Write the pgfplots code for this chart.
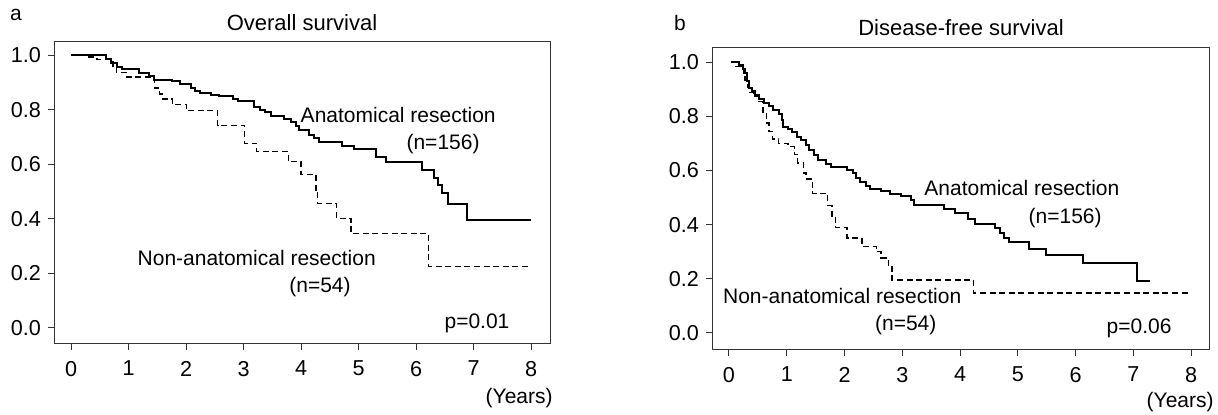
\documentclass[border=0pt]{standalone}
\usepackage{fontspec}
\setmainfont{Liberation Sans}
\usepackage{pgfplots}
\pgfplotsset{compat=1.18}

\tikzset{lab/.style={font=\fontsize{10.5}{12}\selectfont, inner sep=0pt}}
\pgfplotsset{
  km/.style={
    scale only axis,
    axis line style={black!80, line width=0.5pt},
    tick style={black!80, line width=0.5pt},
    tick align=outside,
    xtick pos=bottom, ytick pos=left,
    major tick length=3pt,
    xtick={0,1,2,3,4,5,6,7,8},
    xticklabels={0,1,2,3,4,5,6,7,8},
    ytick={0,0.2,0.4,0.6,0.8,1},
    yticklabels={0.0,0.2,0.4,0.6,0.8,1.0},
    ticklabel style={font=\fontsize{10.8}{12}\selectfont},
    xticklabel style={yshift=-2pt},
    /pgf/number format/assume math mode=true,
    clip=false,
  },
  surv/.style={const plot, black, line width=1pt, no marks},
  survd/.style={const plot, black, line width=0.7pt, no marks, dash pattern=on 3pt off 1.8pt},
}

\begin{document}
\begin{tikzpicture}
\path (0pt,0pt) rectangle (609pt,207.5pt);

% a: overall survival
\begin{axis}[km, at={(27pt,35.5pt)}, anchor=south west,
  width=248pt, height=151pt,
  xmin=-0.296, xmax=8.33, ymin=-0.059, ymax=1.048]
\addplot[surv] coordinates {
(0,1.0) (0.61,0.985) (0.70,0.97) (0.80,0.958) (0.88,0.948) (1.18,0.935)
(1.35,0.925) (1.45,0.91) (1.75,0.905) (1.9,0.895) (2.08,0.88) (2.15,0.87)
(2.25,0.86) (2.44,0.855) (2.57,0.85) (2.81,0.84) (2.91,0.83) (3.19,0.81)
(3.29,0.80) (3.38,0.79) (3.47,0.777) (3.7,0.765) (3.82,0.755) (3.92,0.74)
(3.97,0.724) (4.14,0.708) (4.22,0.696) (4.31,0.683) (4.72,0.665) (4.92,0.655)
(5.31,0.628) (5.48,0.608) (6.11,0.579) (6.32,0.549) (6.39,0.522) (6.45,0.494)
(6.56,0.455) (6.88,0.394) (8.0,0.394)
};
\addplot[survd] coordinates {
(0,1.0) (0.29,0.993) (0.45,0.983) (0.73,0.958) (0.79,0.936) (0.97,0.919)
(1.45,0.879) (1.54,0.857) (1.59,0.839) (1.76,0.818) (2.01,0.796) (2.55,0.742)
(3.02,0.677) (3.23,0.647) (3.78,0.61) (4.0,0.562) (4.26,0.506) (4.29,0.455)
(4.62,0.401) (4.87,0.345) (6.22,0.225) (8.0,0.225)
};
\node[lab] at (axis cs:5.69,0.78) {Anatomical resection};
\node[lab] at (axis cs:6.47,0.674) {(n=156)};
\node[lab] at (axis cs:3.23,0.256) {Non-anatomical resection};
\node[lab] at (axis cs:4.33,0.15) {(n=54)};
\node[lab] at (axis cs:7.06,0.018) {p=0.01};
\end{axis}

% b: disease-free survival
\begin{axis}[km, at={(356pt,32.5pt)}, anchor=south west,
  width=248.5pt, height=151pt,
  xmin=-0.294, xmax=8.31, ymin=-0.063, ymax=1.052]
\addplot[surv] coordinates {
(0.03,1.0) (0.18,0.99) (0.25,0.975) (0.28,0.96) (0.32,0.93) (0.35,0.905)
(0.40,0.895) (0.45,0.88) (0.52,0.865) (0.60,0.848) (0.69,0.836) (0.77,0.824)
(0.86,0.81) (0.91,0.787) (0.94,0.762) (1.02,0.752) (1.09,0.74) (1.18,0.725)
(1.25,0.713) (1.33,0.695) (1.39,0.676) (1.48,0.658) (1.54,0.64) (1.68,0.625)
(1.77,0.613) (2.04,0.603) (2.14,0.59) (2.19,0.572) (2.26,0.556) (2.37,0.542)
(2.44,0.532) (2.63,0.523) (2.78,0.513) (2.98,0.505) (3.15,0.489) (3.21,0.474)
(3.72,0.458) (3.92,0.444) (4.14,0.42) (4.26,0.401) (4.6,0.388) (4.7,0.37)
(4.76,0.352) (4.85,0.336) (5.2,0.311) (5.49,0.287) (6.13,0.257) (7.06,0.192)
(7.29,0.192)
};
\addplot[survd] coordinates {
(0.03,1.0) (0.12,0.983) (0.25,0.958) (0.28,0.934) (0.32,0.907) (0.35,0.887)
(0.42,0.873) (0.52,0.854) (0.59,0.811) (0.65,0.775) (0.69,0.744) (0.75,0.716)
(0.86,0.70) (1.02,0.689) (1.13,0.658) (1.19,0.627) (1.29,0.591) (1.33,0.569)
(1.45,0.515) (1.71,0.47) (1.78,0.43) (1.84,0.39) (2.04,0.35) (2.30,0.32)
(2.55,0.30) (2.63,0.277) (2.76,0.25) (2.82,0.196) (4.23,0.148) (8.0,0.148)
};
\node[lab] at (axis cs:5.07,0.535) {Anatomical resection};
\node[lab] at (axis cs:5.82,0.424) {(n=156)};
\node[lab] at (axis cs:1.96,0.137) {Non-anatomical resection};
\node[lab] at (axis cs:3.06,0.03) {(n=54)};
\node[lab] at (axis cs:7.1,0.018) {p=0.06};
\end{axis}

% panel letters, titles, axis units
\node[lab] at (8pt,200pt) {a};
\node[font=\fontsize{11}{13}\selectfont, inner sep=0pt] at (151pt,196pt) {Overall survival};
\node[lab, anchor=east] at (276.5pt,8.5pt) {(Years)};
\node[lab] at (340pt,196pt) {b};
\node[font=\fontsize{11}{13}\selectfont, inner sep=0pt] at (480.5pt,193.5pt) {Disease-free survival};
\node[lab, anchor=east] at (607pt,6.5pt) {(Years)};
\end{tikzpicture}
\end{document}
